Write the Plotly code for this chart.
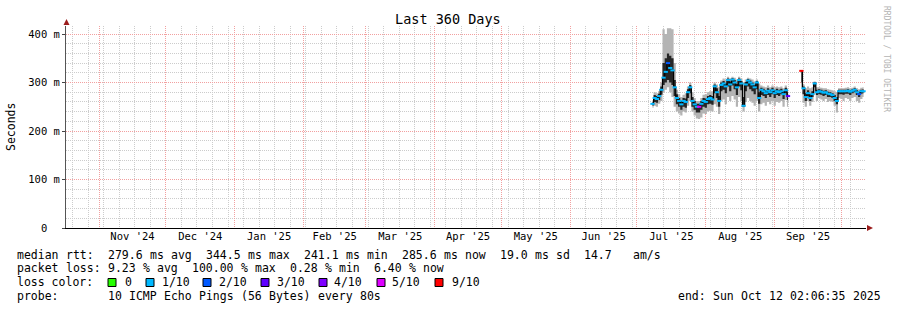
import re
import pandas as pd
import plotly.graph_objects as go

# ---------------- data ----------------
first_day = "2025-07-08"          # first daily sample shown
graph_start = "2024-10-17 02:06:35"
graph_end = "2025-10-12 02:06:35"

median_ms = [
    256, 268, 266, 272, 285, 310, 322, 340, 330, 325,
    290, 268, 262, 255, 262, 260, 280, 290, 262, 255,
    250, 250, 256, 262, 260, 266, 268, 265, 292, 280,
    262, 295, 298, 292, 305, 296, 306, 300, 290, 305,
    298, 252, 296, 304, 300, 296, 290, 300, 268, 285,
    282, 278, 283, 280, 284, 278, 282, 280, 282, 276,
    284, 272, None, None, None, None, None, 324, 288, 270,
    278, 268, 276, 298, 280, 282, 281, 279, 280, 277,
    276, 274, 268, 262, 282, 282, 282, 282, 283, 281,
    283, 285, 280, 276, 282, 282,
]
smoke_max_ms = [
    264, 280, 278, 282, 300, 410, 400, 412, 412, 410,
    340, 285, 276, 270, 275, 278, 292, 300, 280, 268,
    262, 262, 268, 275, 276, 280, 282, 282, 300, 296,
    290, 304, 308, 306, 312, 308, 312, 310, 306, 312,
    308, 300, 306, 310, 308, 306, 302, 306, 298, 294,
    292, 290, 294, 290, 294, 290, 292, 290, 292, 288,
    294, 288, None, None, None, None, None, 326, 296, 288,
    292, 288, 290, 302, 290, 290, 289, 288, 288, 286,
    285, 284, 282, 280, 288, 288, 288, 289, 290, 288,
    289, 292, 288, 286, 289, 290,
]
smoke_min_ms = [
    248, 252, 250, 256, 262, 280, 285, 290, 280, 270,
    250, 240, 236, 232, 240, 238, 252, 262, 240, 232,
    226, 225, 228, 236, 235, 240, 242, 240, 255, 250,
    235, 262, 265, 255, 270, 262, 272, 265, 250, 270,
    262, 240, 260, 268, 262, 258, 252, 262, 240, 255,
    258, 252, 260, 255, 262, 252, 260, 258, 262, 250,
    264, 250, None, None, None, None, None, 290, 258, 250,
    262, 252, 260, 278, 262, 268, 265, 262, 266, 260,
    262, 260, 252, 238, 268, 266, 262, 268, 266, 262,
    268, 270, 262, 258, 266, 270,
]
core_hi_ms = [
    260, 274, 272, 277, 292, 340, 350, 360, 355, 350,
    305, 276, 268, 262, 268, 267, 286, 295, 270, 262,
    256, 256, 262, 268, 267, 272, 274, 272, 296, 288,
    272, 300, 303, 298, 308, 302, 309, 305, 297, 308,
    303, 270, 301, 307, 304, 300, 295, 303, 280, 289,
    287, 284, 288, 285, 289, 284, 287, 285, 287, 282,
    289, 280, None, None, None, None, None, 325, 292, 278,
    284, 276, 282, 300, 285, 286, 285, 283, 284, 281,
    280, 278, 274, 270, 285, 285, 285, 285, 286, 284,
    286, 288, 284, 280, 285, 286,
]
core_lo_ms = [
    252, 260, 258, 264, 275, 295, 300, 305, 300, 295,
    272, 255, 250, 244, 250, 248, 268, 278, 250, 244,
    238, 238, 244, 250, 248, 255, 256, 254, 278, 268,
    250, 282, 285, 278, 292, 282, 294, 286, 274, 292,
    284, 250, 282, 292, 286, 282, 276, 286, 256, 274,
    272, 268, 274, 270, 276, 268, 274, 272, 276, 266,
    278, 264, None, None, None, None, None, 300, 276, 262,
    272, 262, 270, 290, 274, 276, 275, 272, 274, 270,
    270, 268, 262, 255, 276, 276, 275, 277, 277, 274,
    278, 280, 274, 270, 277, 278,
]
loss_tenths = [
    1, 1, 1, 1, 1, 1, 1, 2, 1, 1,
    1, 1, 1, 1, 1, 1, 1, 1, 1, 1,
    1, 5, 1, 1, 1, 1, 1, 1, 1, 1,
    1, 1, 1, 1, 1, 1, 1, 1, 1, 1,
    1, 1, 1, 1, 1, 1, 1, 1, 1, 1,
    1, 1, 1, 1, 1, 1, 1, 1, 1, 1,
    1, 3, None, None, None, None, None, 9, 1, 1,
    1, 1, 1, 1, 1, 1, 1, 1, 1, 1,
    1, 1, 1, 1, 1, 1, 1, 1, 1, 1,
    1, 1, 1, 2, 1, 1,
]

y_tick_values = [0, 100, 200, 300, 400]
y_tick_labels = ["0\u00a0\u00a0", "100 m", "200 m", "300 m", "400 m"]
month_labels = ["Nov '24", "Dec '24", "Jan '25", "Feb '25", "Mar '25", "Apr '25",
                "May '25", "Jun '25", "Jul '25", "Aug '25", "Sep '25"]

loss_keys = [0, 1, 2, 3, 4, 5, 9]
loss_key_labels = ["0", "1/10", "2/10", "3/10", "4/10", "5/10", "9/10"]
loss_colors = {0: "#26ff00", 1: "#00b8ff", 2: "#0059ff", 3: "#5e00ff",
               4: "#7e00ff", 5: "#dd00ff", 9: "#ff0000"}

title_text = "Last 360 Days"
legend_rtt = "median rtt:  279.6 ms avg  344.5 ms max  241.1 ms min  285.6 ms now  19.0 ms sd  14.7   am/s"
legend_loss = "packet loss: 9.23 % avg  100.00 % max  0.28 % min  6.40 % now"
legend_probe_label = "probe:"
legend_probe = "10 ICMP Echo Pings (56 Bytes) every 80s"
legend_end = "end: Sun Oct 12 02:06:35 2025"
watermark = "RRDTOOL / TOBI OETIKER"

# ---------------- styling ----------------
FONT = "DejaVu Sans Mono"
RED_GRID = "#f2a0a0"
GRAY_GRID = "#cccccc"
ARROW = "#9b1c1c"
L, R, T, B = 66, 31, 26, 82
W, H = 897, 310
PW, PH = W - L - R, H - T - B


def px(x):
    return (x - L) / PW


def py(y):
    return (H - B - y) / PH


# ---------------- traces ----------------
dates = pd.date_range(first_day, periods=len(median_ms), freq="D")
df = pd.DataFrame(dict(t=dates, med=median_ms, lo=smoke_min_ms, hi=smoke_max_ms,
                       clo=core_lo_ms, chi=core_hi_ms, loss=loss_tenths))
df["seg"] = df["med"].isna().cumsum()

fig = go.Figure()
for _, seg in df.dropna(subset=["med"]).groupby("seg"):
    common = dict(x=seg["t"], mode="lines", hoverinfo="skip", showlegend=False)
    fig.add_trace(go.Scatter(y=seg["lo"], line=dict(width=0, shape="hvh"), **common))
    fig.add_trace(go.Scatter(y=seg["hi"], line=dict(width=0, shape="hvh"),
                             fill="tonexty", fillcolor="#b4b4b4", **common))
    fig.add_trace(go.Scatter(y=seg["clo"], line=dict(width=0, shape="hvh"), **common))
    fig.add_trace(go.Scatter(y=seg["chi"], line=dict(width=0, shape="hvh"),
                             fill="tonexty", fillcolor="#262626", **common))
    fig.add_trace(go.Scatter(y=seg["med"], line=dict(width=1.2, color="#000000", shape="hvh"),
                             **common))
    fig.add_trace(go.Scatter(
        x=seg["t"], y=seg["med"], mode="markers", hoverinfo="skip", showlegend=False,
        marker=dict(symbol="line-ew", size=3,
                    line=dict(width=2, color=[loss_colors[int(v)] for v in seg["loss"]]))))

# invisible trace for the label axis
fig.add_trace(go.Scatter(x=[graph_start, graph_end], y=[0, 0], xaxis="x2", mode="lines",
                         line=dict(width=0), hoverinfo="skip", showlegend=False))

# ---------------- axes ----------------
month_starts = pd.date_range("2024-11-01", "2025-10-01", freq="MS")
next_starts = month_starts + pd.offsets.MonthBegin(1)
month_mids = month_starts + (next_starts - month_starts) / 2
week_starts = pd.date_range("2024-10-20", graph_end, freq="7D")

fig.update_layout(
    width=W, height=H, margin=dict(l=L, r=R, t=T, b=B),
    paper_bgcolor="white", plot_bgcolor="white", showlegend=False,
    font=dict(family=FONT, size=10.5, color="#000"),
    xaxis=dict(type="date", range=[graph_start, graph_end], tickmode="array",
               tickvals=list(month_starts), showticklabels=False, ticks="",
               showgrid=True, gridcolor=RED_GRID, griddash="1px,1px", gridwidth=1,
               minor=dict(tickmode="array", tickvals=list(week_starts), showgrid=True,
                          gridcolor=GRAY_GRID, griddash="1px,1px", ticks=""),
               showline=True, linecolor="#000", linewidth=1, zeroline=False),
    xaxis2=dict(type="date", overlaying="x", anchor="y", side="bottom",
                range=[graph_start, graph_end], tickmode="array",
                tickvals=list(month_mids[:len(month_labels)]), ticktext=month_labels,
                showgrid=False, showline=False, zeroline=False, ticks="",
                tickfont=dict(family=FONT, size=10.5, color="#000")),
    yaxis=dict(range=[0, (H - B - T) / 0.485], tickmode="array", tickvals=y_tick_values,
               ticktext=y_tick_labels, showgrid=True, gridcolor=RED_GRID,
               griddash="1px,1px",
               minor=dict(tickmode="linear", tick0=0, dtick=20, showgrid=True,
                          gridcolor=GRAY_GRID, griddash="1px,1px", ticks=""),
               ticks="outside", ticklen=3, tickcolor="#444", showline=True,
               linecolor="#555", zeroline=False,
               tickfont=dict(family=FONT, size=10.5, color="#000")),
)

# arrows on the axes
fig.add_shape(type="path", xref="paper", yref="paper", line=dict(width=0), fillcolor=ARROW,
              path=f"M {px(66.5)},{py(19)} L {px(63.5)},{py(25)} L {px(69.5)},{py(25)} Z")
fig.add_shape(type="path", xref="paper", yref="paper", line=dict(width=0), fillcolor=ARROW,
              path=f"M {px(873)},{py(228)} L {px(867)},{py(225)} L {px(867)},{py(231)} Z")

# ---------------- text ----------------
def note(text, x, y, size=11.5, anchor="left", color="#000", angle=0):
    fig.add_annotation(x=px(x), y=py(y), xref="paper", yref="paper", text=text,
                       showarrow=False, xanchor=anchor, yanchor="middle",
                       textangle=angle, font=dict(family=FONT, size=size, color=color),
                       borderpad=0)


def mono_line(text, x0, y, col=7.0):
    for m in re.finditer(r"\S+", text):
        note(m.group(), x0 + col * m.start(), y)


note(title_text, 448, 19, size=13.5, anchor="center")
note("Seconds", 11, 127, size=11.5, anchor="center", angle=-90)
note(watermark, 887, 59, size=8, anchor="center", color="#b4b4b4", angle=90)

mono_line(legend_rtt, 16, 255)
mono_line(legend_loss, 16, 268)
note("loss color:", 16, 282)
box_x = [108, 146, 203, 261, 319, 377, 435]
text_x = [124, 161, 218, 276, 333, 391, 451]
for k, lab, bx, tx in zip(loss_keys, loss_key_labels, box_x, text_x):
    fig.add_shape(type="rect", xref="paper", yref="paper",
                  x0=px(bx), x1=px(bx + 8), y0=py(286.5), y1=py(278.5),
                  fillcolor=loss_colors[k], line=dict(color="#000", width=1))
    note(lab, tx, 282)
note(legend_probe_label, 16, 296)
mono_line(legend_probe, 107, 296)
mono_line(legend_end, 677, 296)

fig.write_html("out.html")
